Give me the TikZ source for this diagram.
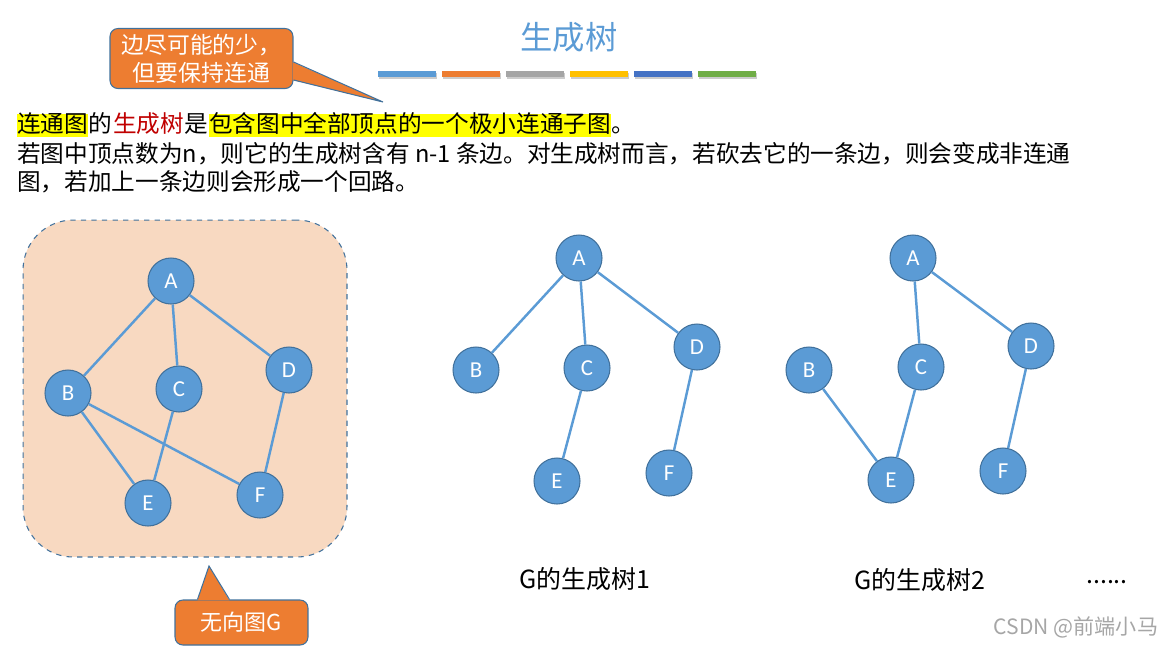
\documentclass[tikz,border=0pt]{standalone}
\usepackage{fontspec}
\setmainfont{Noto Sans CJK SC}
\newfontfamily\latinfont{Carlito}
\usetikzlibrary{positioning, calc}

\definecolor{nodeblue}{HTML}{5B9BD5}
\definecolor{nodeline}{HTML}{41719C}
\definecolor{calloutorange}{HTML}{ED7D31}
\definecolor{boxfill}{HTML}{F8D9C1}
\definecolor{hlyellow}{HTML}{FFFF00}
\definecolor{termred}{HTML}{C00000}
\definecolor{barGray}{HTML}{A5A5A5}
\definecolor{barGold}{HTML}{FFC000}
\definecolor{barBlue}{HTML}{4472C4}
\definecolor{barGreen}{HTML}{70AD47}

\newcommand{\bodyfont}{\fontsize{13.45}{16}\selectfont}

\begin{document}
\begin{tikzpicture}[
		x=0.02cm, y=-0.02cm,
		% Style for the vertices and edges
		vtx/.style={circle, fill=nodeblue, draw=nodeline, line width=0.6pt,
			minimum size=0.92cm, inner sep=0pt, text=white,
			font=\latinfont\fontsize{13}{13}\selectfont},
		edge/.style={draw=nodeblue, line width=1.4pt},
		% Callouts and the region round G
		callbox/.style={fill=calloutorange, draw=nodeline, line width=0.6pt,
			rounded corners=4.5pt, text=white, align=center, inner sep=0pt},
		gbox/.style={fill=boxfill, draw=nodeline, dashed, line width=0.6pt,
			rounded corners=1cm, minimum width=6.48cm, minimum height=6.74cm},
		% Text
		seg/.style={inner sep=0pt, anchor=base west, font=\bodyfont},
		hl/.style={fill=hlyellow, inner xsep=0pt, inner ysep=1.5pt,
			text height=0.88em, text depth=0.12em},
		caption/.style={font=\fontsize{14.2}{14.2}\selectfont}
		]
		\useasboundingbox (0,0) rectangle (1168,647);
		
		% Title and colour bars
		\node[text=nodeblue, font=\fontsize{18.4}{18.4}\selectfont] (title) at (569,37) {生成树};
		\foreach \col [count=\i] in {nodeblue, calloutorange, barGray, barGold, barBlue, barGreen} {
			\fill[black!20] ({378+(\i-1)*64+1},72.5) rectangle ++(58,6);
			\fill[\col] ({378+(\i-1)*64},71) rectangle ++(58,6);
		}
		
		% Callout at the top
		\node[callbox, minimum width=3.66cm, minimum height=1.2cm,
			font=\fontsize{13}{15.9}\selectfont] (noteTop) at (201.5,58.5) {边尽可能的少，\\但要保持连通};
		\coordinate (noteTopTip) at (383,102);
		\fill[calloutorange] ($(noteTop.north east)+(-1,34)$) -- (noteTopTip) -- ($(noteTop.north east)+(-1,52)$) -- cycle;
		\draw[nodeline, line width=0.6pt] ($(noteTop.north east)+(0,34)$) -- (noteTopTip) -- ($(noteTop.north east)+(0,52)$);
		
		% Definition text
		\node[seg, hl] (def1) at (17,132) {连通图};
		\node[seg] (def2) at (def1.base east) {的};
		\node[seg, text=termred] (def3) at (def2.base east) {生成树};
		\node[seg] (def4) at (def3.base east) {是};
		\node[seg, hl] (def5) at (def4.base east) {包含图中全部顶点的一个极小连通子图};
		\node[seg] (def6) at (def5.base east) {。};
		\node[seg] (line2) at (17,162) {若图中顶点数为n，则它的生成树含有 n-1 条边。对生成树而言，若砍去它的一条边，则会变成非连通};
		\node[seg] (line3) at (17,190) {图，若加上一条边则会形成一个回路。};
		
		% Undirected graph G
		\node[gbox] (regionG) at (185,388.5) {};
		\node[vtx] (gA) at (171,281) {A};
		\node[vtx] (gB) at (68,393) {B};
		\node[vtx] (gC) at (179,389) {C};
		\node[vtx] (gD) at (289,370) {D};
		\node[vtx] (gE) at (148,503) {E};
		\node[vtx] (gF) at (260,495) {F};
		\draw[edge] (gA) -- (gB);
		\draw[edge] (gA) -- (gC);
		\draw[edge] (gA) -- (gD);
		\draw[edge] (gB) -- (gE);
		\draw[edge] (gB) -- (gF);
		\draw[edge] (gC) -- (gE);
		\draw[edge] (gD) -- (gF);
		
		% Callout below G
		\node[callbox, minimum width=2.66cm, minimum height=0.9cm,
			font=\fontsize{12.5}{12.5}\selectfont] (noteG) at (241.5,622.5) {无向图G};
		\coordinate (noteGTip) at (209,566);
		\fill[calloutorange] ($(noteG.north west)+(23,1)$) -- (noteGTip) -- ($(noteG.north west)+(55,1)$) -- cycle;
		\draw[nodeline, line width=0.6pt] ($(noteG.north west)+(23,0)$) -- (noteGTip) -- ($(noteG.north west)+(55,0)$);
		
		% Spanning tree 1
		\node[vtx] (pA) at (579,258) {A};
		\node[vtx] (pB) at (476,370) {B};
		\node[vtx] (pC) at (587,368) {C};
		\node[vtx] (pD) at (697,347) {D};
		\node[vtx] (pE) at (557,481) {E};
		\node[vtx] (pF) at (669,473) {F};
		\draw[edge] (pA) -- (pB);
		\draw[edge] (pA) -- (pC);
		\draw[edge] (pA) -- (pD);
		\draw[edge] (pC) -- (pE);
		\draw[edge] (pD) -- (pF);
		\node[caption] (capOne) at (585,579) {G的生成树1};
		
		% Spanning tree 2
		\node[vtx] (qA) at (913,258) {A};
		\node[vtx] (qB) at (809,370) {B};
		\node[vtx] (qC) at (921,367) {C};
		\node[vtx] (qD) at (1031,346) {D};
		\node[vtx] (qE) at (891,480) {E};
		\node[vtx] (qF) at (1003,471) {F};
		\draw[edge] (qA) -- (qC);
		\draw[edge] (qA) -- (qD);
		\draw[edge] (qB) -- (qE);
		\draw[edge] (qC) -- (qE);
		\draw[edge] (qD) -- (qF);
		\node[caption] (capTwo) at (920,580) {G的生成树2};
		
		\node[caption] (more) at (1107,582) {......};
		\node[text=black!35, font=\fontsize{12}{12}\selectfont] (mark) at (1076,627) {CSDN @前端小马};
	\end{tikzpicture}
\end{document}
